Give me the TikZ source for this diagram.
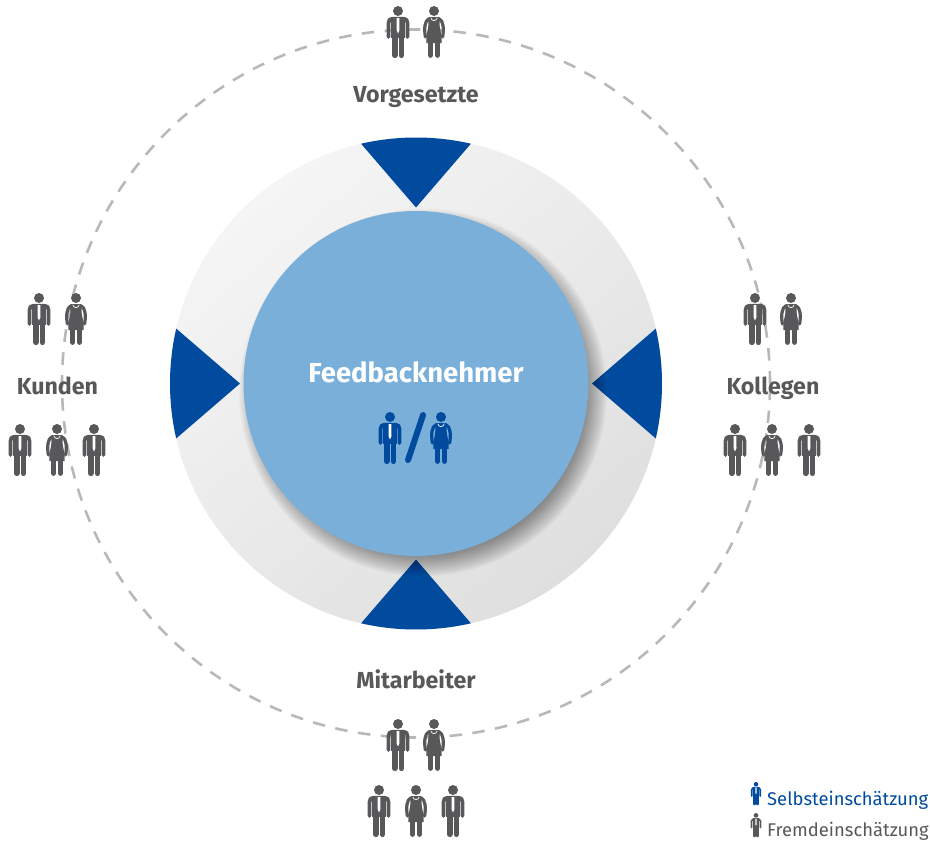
\documentclass[tikz,border=0pt]{standalone}
\usetikzlibrary{calc}
\usepackage{fontspec}
\setmainfont{Fira Sans}
\definecolor{fbblue}{HTML}{004B9E}
\definecolor{fblight}{HTML}{79AFD9}
\definecolor{fbgrey}{HTML}{58585A}
\definecolor{fbdash}{HTML}{B8B8B8}
\definecolor{ringa}{HTML}{F5F5F5}
\definecolor{ringb}{HTML}{DFDFDF}
\colorlet{pers}{fbgrey}
\def\pscale{1}
\tikzset{
  lab/.style={text=fbgrey,anchor=base,font=\fontsize{23.2}{26}\selectfont\bfseries,inner sep=0pt},
  leg/.style={anchor=base west,font=\fontsize{18.4}{24}\selectfont,inner sep=0pt},
  man/.pic={
    \fill[pers] (0,5) circle[radius=5];
    \draw[pers,line width=3.7pt*\pscale,line cap=round,line join=round]
      (-9.5,31) -- (-9.5,17) .. controls (-9.5,14) and (-8,12.8) .. (-6,12.8) -- (6,12.8) .. controls (8,12.8) and (9.5,14) .. (9.5,17) -- (9.5,31);
    \fill[pers] (-6.6,12) rectangle (6.6,32);
    \draw[pers,line width=5.8pt*\pscale,line cap=round] (-3.4,30) -- (-3.4,49.2);
    \draw[pers,line width=5.8pt*\pscale,line cap=round] (3.4,30) -- (3.4,49.2);
    \fill[white] (-1.3,12) -- (1.3,12) -- (1.5,24) -- (0,27.5) -- (-1.5,24) -- cycle;
  },
  woman/.pic={
    \fill[pers] (0,5) circle[radius=5];
    \draw[pers,line width=3.2pt*\pscale,line cap=round,line join=round]
      (-8.6,31) .. controls (-10,23) and (-9.5,14.5) .. (-5,12.8) -- (5,12.8) .. controls (9.5,14.5) and (10,23) .. (8.6,31);
    \fill[pers] (-5.5,12) -- (5.5,12) -- (5.6,19) .. controls (5.8,24) and (7.6,27) .. (7.6,31) -- (7.6,37) -- (-7.6,37) -- (-7.6,31) .. controls (-7.6,27) and (-5.8,24) .. (-5.6,19) -- cycle;
    \draw[pers,line width=5.4pt*\pscale,line cap=round] (-3.5,34) -- (-3.5,49.2);
    \draw[pers,line width=5.4pt*\pscale,line cap=round] (3.5,34) -- (3.5,49.2);
    \draw[white,line width=.7pt*\pscale] (-3.2,11.8) .. controls (-2.5,15.5) and (2.5,15.5) .. (3.2,11.8);
  }
}
\begin{document}
\begin{tikzpicture}[x=1pt,y=-1pt]
\useasboundingbox (0,0) rectangle (930,841);
\coordinate (c) at (416,383.5);
% dashed orbit
\draw[fbdash,line width=2.6pt,dash pattern=on 12.5pt off 10.5pt] (c) circle[radius=354pt];
% ring
\shade[shading=axis,top color=ringa,bottom color=ringb,shading angle=40] (c) circle[radius=246pt];
% wedges
\begin{scope}[shift={(c)},x=1pt,y=1pt]
\foreach \a in {0,90,180,270}
  \fill[fbblue,rotate=\a] (0,176) -- (77.1:246pt) arc[start angle=77.1,end angle=102.9,radius=246pt] -- cycle;
\end{scope}
% soft shadow
\foreach \r in {0,1,...,22}
  \fill[black,opacity=.02] ($(c)+(7,9)$) circle[radius=162pt+\r pt];
% centre disc
\fill[fblight] (c) circle[radius=172.5pt];
% labels
\node[text=white,anchor=base,font=\fontsize{27.5}{30}\selectfont\bfseries,inner sep=0pt] (fn) at (416,382) {Feedbacknehmer};
\node[lab] (vg) at (416,102) {Vorgesetzte};
\node[lab] (kd) at (57.5,394.5) {Kunden};
\node[lab] (kl) at (773,394.5) {Kollegen};
\node[lab] (ma) at (416,688) {Mitarbeiter};
% people
\pic at (398,6) {man};  \pic at (434,6) {woman};
\pic at (39,293) {man}; \pic at (76,293) {woman};
\pic at (20,424) {man}; \pic at (57,424) {woman}; \pic at (94,424) {man};
\pic at (755,293) {man}; \pic at (791,293) {woman};
\pic at (735,424) {man}; \pic at (772,424) {woman}; \pic at (809,424) {man};
\pic at (398,719) {man}; \pic at (434,719) {woman};
\pic at (379,785) {man}; \pic at (416,785) {woman}; \pic at (453,785) {man};
% feedback receiver icons
\begin{scope}
\colorlet{pers}{fbblue}
\pic at (390,412) {man};
\pic at (441,412) {woman};
\coordinate (s1) at (423,415);
\coordinate (s2) at (408,460);
\draw[fbblue,line width=6pt,line cap=round] (s1) -- (s2);
\end{scope}
% legend
\begin{scope}
\def\pscale{.45}
\colorlet{pers}{fbblue}
\pic[scale=.45] at (756,782) {man};
\colorlet{pers}{fbgrey}
\pic[scale=.47] at (756,813) {man};
\end{scope}
\node[leg,text=fbblue] (l1) at (767,805) {Selbsteinschätzung};
\node[leg,text=fbgrey] (l2) at (767,836) {Fremdeinschätzung};
\end{tikzpicture}
\end{document}
